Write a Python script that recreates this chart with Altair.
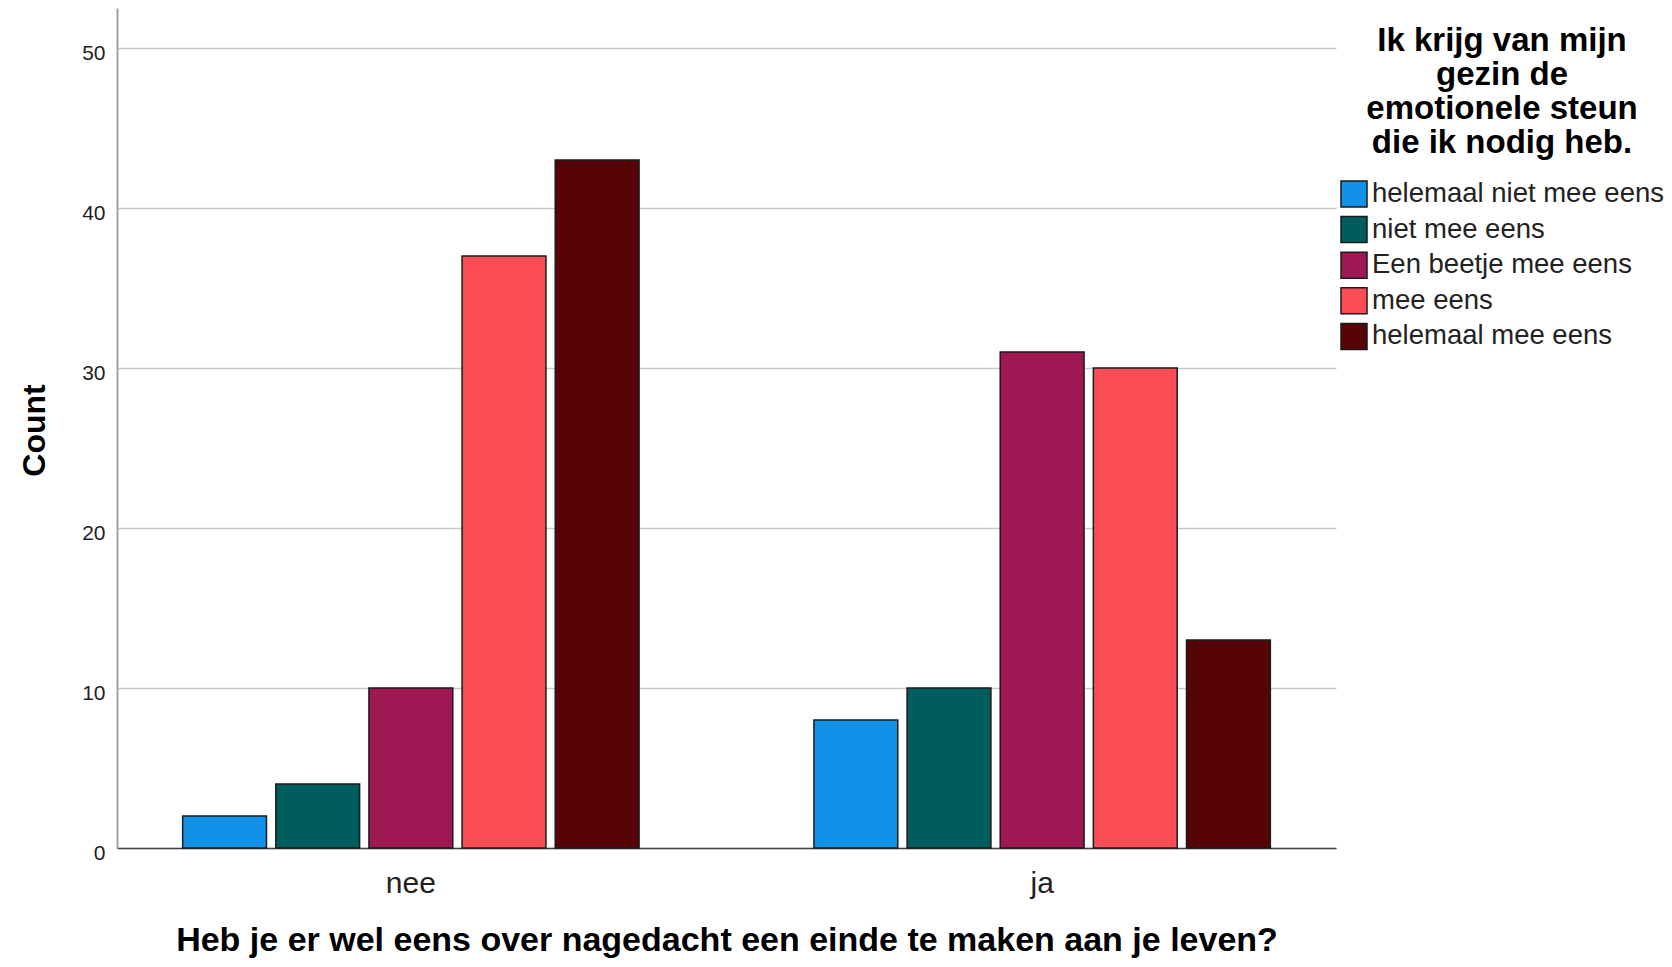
import altair as alt
import pandas as pd

groups = ["nee", "ja"]
categories = ["helemaal niet mee eens", "niet mee eens", "Een beetje mee eens", "mee eens", "helemaal mee eens"]
colors = ["#1192e8", "#005d5d", "#9f1853", "#fa4d56", "#570408"]
nee_counts = [2, 4, 10, 37, 43]
ja_counts = [8, 10, 31, 30, 13]
y_ticks = [0, 10, 20, 30, 40, 50]

rows = []
for g, vals in zip(groups, [nee_counts, ja_counts]):
    for c, v in zip(categories, vals):
        rows.append({"group": g, "cat": c, "count": v})
df = pd.DataFrame(rows)

FONT = "Liberation Sans"

chart = alt.Chart(df).mark_bar(stroke="#1a1a1a", strokeWidth=1.5).encode(
    x=alt.X("group:N", sort=groups,
            scale=alt.Scale(paddingInner=0.277, paddingOuter=0.104),
            axis=alt.Axis(title="Heb je er wel eens over nagedacht een einde te maken aan je leven?",
                          titleFont=FONT, titleFontSize=34, titleFontWeight="bold", titleColor="#000",
                          titleY=102, titleBaseline="alphabetic",
                          labelFont=FONT, labelFontSize=30, labelColor="#222", labelAngle=0,
                          labelPadding=20, ticks=False, domainColor="#444", domainWidth=1.5,
                          grid=False)),
    xOffset=alt.XOffset("cat:N", sort=categories,
                        scale=alt.Scale(paddingInner=0.1, paddingOuter=0)),
    y=alt.Y("count:Q", scale=alt.Scale(domain=[0, 52.5], nice=False, zero=True),
            axis=alt.Axis(title="Count", values=y_ticks,
                          titleFont=FONT, titleFontSize=32, titleFontWeight="bold", titleColor="#000",
                          titleAngle=-90, titleX=-83, titleY=422, titleAlign="center", titleBaseline="middle",
                          labelFont=FONT, labelFontSize=21, labelColor="#222", labelPadding=12,
                          labelOffset=5,
                          ticks=False, domainColor="#a0a0a0", domainWidth=2,
                          grid=True, gridColor="#c8c8c8", gridWidth=1.5)),
    color=alt.Color("cat:N", sort=categories,
                    scale=alt.Scale(domain=categories, range=colors),
                    legend=alt.Legend(title=["Ik krijg van mijn", "gezin de", "emotionele steun", "die ik nodig heb."],
                                      titleFont=FONT, titleFontSize=33, titleFontWeight="bold", titleColor="#000",
                                      titleAlign="center", titleAnchor="middle", titleLineHeight=34,
                                      titleLimit=400, titlePadding=20,
                                      labelFont=FONT, labelFontSize=27.5, labelColor="#222", labelLimit=400,
                                      symbolType="square", symbolSize=676, symbolStrokeColor="#1a1a1a",
                                      symbolStrokeWidth=1.5, symbolOpacity=1, labelOffset=4,
                                      rowPadding=3.6, padding=0, orient="none",
                                      legendX=1223, legendY=17)),
).properties(
    width=1219, height=840,
    autosize=alt.AutoSizeParams(type="none"),
    padding={"left": 109, "top": 0, "right": 328, "bottom": 111},
).configure_view(stroke=None)

chart.save("out.html", embed_options={"renderer": "svg", "actions": False})
